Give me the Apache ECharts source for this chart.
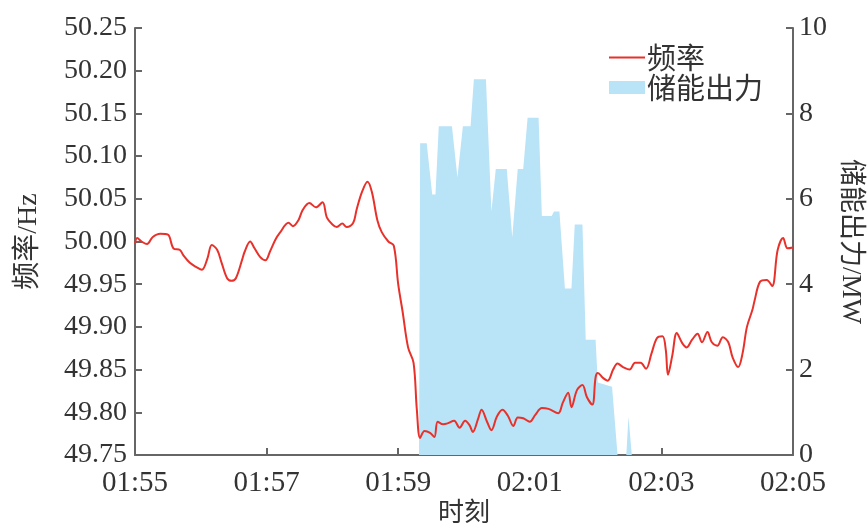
<!DOCTYPE html>
<html>
<head>
<meta charset="utf-8">
<script src="https://cdn.jsdelivr.net/npm/echarts@6/dist/echarts.min.js"></script>
<style>
  html, body { margin: 0; padding: 0; background: #fff; }
  #main { width: 867px; height: 524px; }
</style>
</head>
<body>
<div id="main"></div>
<script>
// x values are seconds after 01:55
var xTickLabels = ['01:55', '01:57', '01:59', '02:01', '02:03', '02:05'];

var freqTimes = [0, 2, 6, 11, 16, 23, 30, 35, 41, 44, 50, 56, 61, 66, 70, 75, 79, 84, 88, 92,
  98, 100, 105, 109, 114, 119, 123, 128, 132, 140, 144, 149, 153, 159, 165, 171, 175, 180, 184, 189,
  193, 199, 202, 207, 212, 216, 221, 225, 231, 236, 240, 244, 249, 254, 257, 260, 264, 269, 273, 276,
  281, 285, 291, 296, 301, 305, 308, 313, 316, 321, 325, 330, 335, 340, 345, 349, 354, 360, 365, 371,
  377, 386, 390, 395, 398, 403, 408, 412, 417, 420, 422, 427, 431, 436, 440, 445, 451, 456, 461, 466,
  471, 476, 481, 484, 486, 490, 494, 499, 503, 508, 513, 517, 522, 526, 531, 536, 541, 545, 550, 554,
  558, 563, 565, 570, 576, 581, 586, 591, 595, 600];
var freqValues = [49.997, 50.004, 50.000, 49.997, 50.005, 50.009, 50.008, 49.992, 49.990, 49.984,
  49.975, 49.970, 49.967, 49.980, 49.996, 49.990, 49.975, 49.957, 49.954, 49.957,
  49.980, 49.988, 50.000, 49.992, 49.982, 49.978, 49.988, 50.002, 50.010, 50.022,
  50.018, 50.025, 50.037, 50.045, 50.040, 50.046, 50.028, 50.020, 50.017, 50.021,
  50.017, 50.022, 50.037, 50.058, 50.070, 50.058, 50.025, 50.011, 50.000, 49.995,
  49.950, 49.918, 49.876, 49.858, 49.803, 49.770, 49.778, 49.776, 49.771, 49.789,
  49.786, 49.787, 49.790, 49.782, 49.790, 49.785, 49.777, 49.793, 49.803, 49.789,
  49.779, 49.795, 49.803, 49.796, 49.784, 49.794, 49.793, 49.789, 49.797, 49.805,
  49.804, 49.799, 49.811, 49.823, 49.806, 49.826, 49.832, 49.818, 49.809, 49.841,
  49.846, 49.840, 49.837, 49.850, 49.857, 49.853, 49.850, 49.858, 49.858, 49.851,
  49.869, 49.887, 49.889, 49.873, 49.844, 49.867, 49.893, 49.881, 49.876, 49.885,
  49.892, 49.882, 49.894, 49.882, 49.878, 49.888, 49.882, 49.864, 49.853, 49.869,
  49.900, 49.920, 49.931, 49.953, 49.955, 49.948, 49.990, 50.004, 49.992, 49.993];

var powerTimes = [259, 260, 266, 271, 274, 277, 289, 294, 299, 306, 309, 320, 325, 329, 339, 344,
  349, 354, 358, 368, 371, 380, 382, 387, 392, 398, 401, 408, 411, 420, 422, 435, 440, 448, 450, 453];
var powerValues = [0, 7.3, 7.3, 6.1, 6.1, 7.7, 7.7, 6.5, 7.7, 7.7, 8.8, 8.8, 5.7, 6.7, 6.7, 5.1,
  6.7, 6.7, 7.9, 7.9, 5.6, 5.6, 5.7, 5.7, 3.9, 3.9, 5.4, 5.4, 2.7, 2.7, 1.7, 1.6, 0, 0, 0.9, 0];

function pairs(xs, ys) {
  return xs.map(function (x, i) { return [x, ys[i]]; });
}

var chart = echarts.init(document.getElementById('main'));
var numFont = "'Liberation Serif', 'Noto Sans CJK SC', serif";
var axisColor = '#666';
var textColor = '#333';

var option = {
  animation: false,
  backgroundColor: '#ffffff',
  grid: { left: 135, right: 74, top: 28, bottom: 69, outerBoundsMode: 'none', containLabel: false },
  legend: {
    orient: 'vertical',
    left: 603,
    top: 38,
    itemWidth: 36,
    itemHeight: 13,
    itemGap: 1,
    textStyle: { fontFamily: "'Noto Sans CJK SC'", fontSize: 29, color: textColor, padding: [0, 0, 0, -3] },
    data: [
      { name: '频率', itemStyle: { opacity: 0 } },
      { name: '储能出力', icon: 'rect' }
    ]
  },
  xAxis: {
    type: 'value',
    min: 0,
    max: 600,
    interval: 120,
    name: '时刻',
    nameLocation: 'middle',
    nameGap: 43,
    nameMoveOverlap: false,
    nameTextStyle: { fontFamily: "'Noto Sans CJK SC'", fontSize: 26, color: textColor },
    axisLine: { lineStyle: { color: axisColor, width: 2 } },
    axisTick: { inside: true, length: 7, lineStyle: { color: axisColor, width: 2 } },
    axisLabel: {
      fontFamily: numFont, fontSize: 29, color: textColor, margin: 14,
      formatter: function (v) { return xTickLabels[Math.round(v / 120)]; }
    },
    splitLine: { show: false }
  },
  yAxis: [
    {
      type: 'value',
      min: 49.75,
      max: 50.25,
      interval: 0.05,
      name: '频率/Hz',
      nameLocation: 'middle',
      nameRotate: 90,
      nameGap: 92,
      nameMoveOverlap: false,
      nameTextStyle: { fontFamily: numFont, fontSize: 28, color: textColor },
      axisLine: { show: true, lineStyle: { color: axisColor, width: 2 } },
      axisTick: { show: true, inside: true, length: 7, lineStyle: { color: axisColor, width: 2 } },
      axisLabel: {
        fontFamily: numFont, fontSize: 28, color: textColor, margin: 8,
        formatter: function (v) { return v.toFixed(2); }
      },
      splitLine: { show: false }
    },
    {
      type: 'value',
      min: 0,
      max: 10,
      interval: 2,
      name: '储能出力/MW',
      nameLocation: 'middle',
      nameRotate: -90,
      nameGap: 44,
      nameMoveOverlap: false,
      nameTextStyle: { fontFamily: numFont, fontSize: 27, color: textColor },
      axisLine: { show: true, lineStyle: { color: axisColor, width: 2 } },
      axisTick: { show: true, inside: true, length: 7, lineStyle: { color: axisColor, width: 2 } },
      axisLabel: { fontFamily: numFont, fontSize: 28, color: textColor, margin: 6 },
      splitLine: { show: false }
    }
  ],
  series: [
    {
      name: '储能出力',
      type: 'line',
      yAxisIndex: 1,
      symbol: 'none',
      color: '#b9e3f7',
      lineStyle: { width: 0, color: '#b9e3f7' },
      areaStyle: { color: '#b9e3f7', opacity: 1 },
      data: pairs(powerTimes, powerValues),
      z: 1
    },
    {
      name: '频率',
      type: 'line',
      yAxisIndex: 0,
      symbol: 'none',
      smooth: 0.35,
      color: '#e8312a',
      lineStyle: { width: 2, color: '#e8312a' },
      data: pairs(freqTimes, freqValues),
      z: 3
    }
  ]
};

chart.setOption(option);
</script>
</body>
</html>
